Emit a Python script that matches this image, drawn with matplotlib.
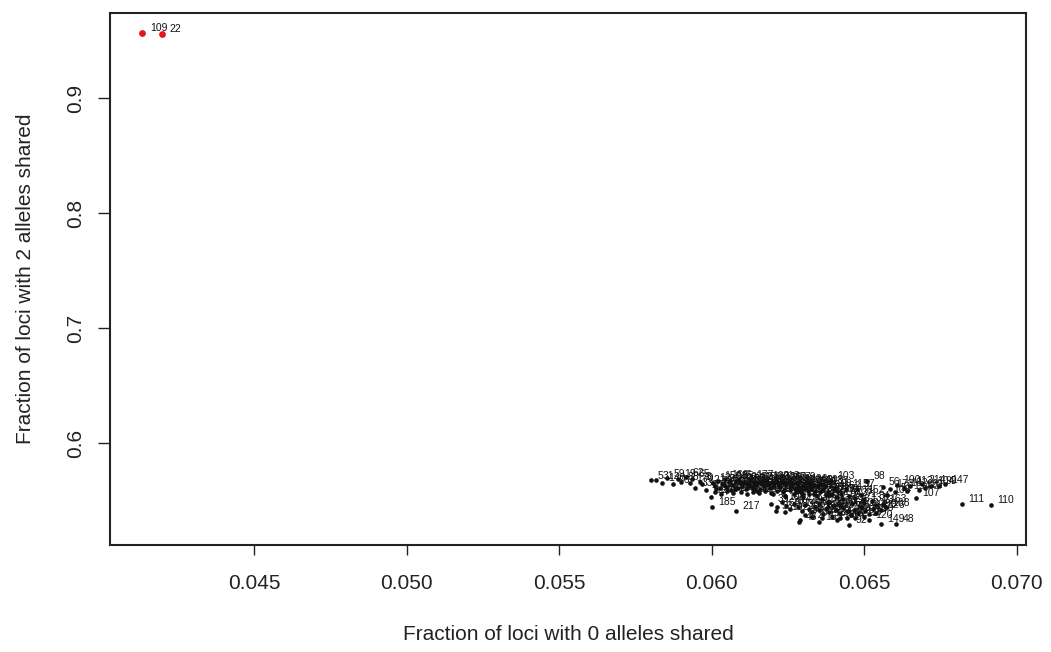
import matplotlib
matplotlib.use("Agg")
import matplotlib.pyplot as plt
from matplotlib import font_manager

plt.rcParams['font.family'] = ['Liberation Sans', 'DejaVu Sans']

# narrow face for the crowded point labels, if it is there
names = {f.name for f in font_manager.fontManager.ttflist}
lab_family = ['Liberation Sans Narrow'] if 'Liberation Sans Narrow' in names else ['Liberation Sans']

# two samples far from the rest (drawn in red)
out_x = [0.04133, 0.04197]
out_y = [0.9568, 0.9560]
out_id = ['109', '22']

# main cluster: fraction of loci sharing 0 alleles / 2 alleles, with sample ids
clu_x = [
    # left, sparse
    0.05802, 0.05818, 0.05838, 0.05855, 0.05872, 0.05888, 0.05900, 0.05915,
    0.05930, 0.05945, 0.05935, 0.05968, 0.05980, 0.05998, 0.06002, 0.06080,
    0.05960,
    # upper band
    0.06005, 0.06012, 0.06020, 0.06028, 0.06035, 0.06042, 0.06050, 0.06057,
    0.06063, 0.06070, 0.06078, 0.06085, 0.06092, 0.06098, 0.06105, 0.06112,
    0.06118, 0.06125, 0.06132, 0.06138, 0.06145, 0.06152, 0.06158, 0.06165,
    0.06172, 0.06178, 0.06185, 0.06192, 0.06198, 0.06205, 0.06212, 0.06218,
    0.06225, 0.06232, 0.06238, 0.06245, 0.06252, 0.06258, 0.06265, 0.06272,
    0.06278, 0.06285, 0.06290, 0.06297, 0.06303, 0.06310, 0.06318, 0.06325,
    0.06332, 0.06340, 0.06348, 0.06355, 0.06362, 0.06370, 0.06380, 0.06392,
    0.06400, 0.06412, 0.06425, 0.06440, 0.06287,
    0.06040, 0.06060, 0.06075, 0.06100, 0.06120, 0.06140, 0.06160, 0.06180,
    0.06200, 0.06220, 0.06240, 0.06260, 0.06280, 0.06300, 0.06015, 0.06090,
    0.06150,
    0.06010, 0.06030, 0.06050, 0.06070, 0.06095, 0.06115, 0.06135, 0.06155,
    0.06175, 0.06195, 0.06215, 0.06235, 0.06255, 0.06275, 0.06295, 0.06315,
    0.06335, 0.06355, 0.06375, 0.06395,
    # between the bands
    0.06200, 0.06240, 0.06270, 0.06300, 0.06320, 0.06345, 0.06360, 0.06385,
    0.06410, 0.06430, 0.06450, 0.06470, 0.06490, 0.06500, 0.06477, 0.06510,
    0.06526,
    # lower band
    0.06195, 0.06215, 0.06230, 0.06245, 0.06258, 0.06270, 0.06282, 0.06295,
    0.06305, 0.06318, 0.06330, 0.06340, 0.06352, 0.06365, 0.06375, 0.06385,
    0.06398, 0.06408, 0.06420, 0.06430, 0.06442, 0.06455, 0.06465, 0.06478,
    0.06490, 0.06502, 0.06515, 0.06528, 0.06540, 0.06555, 0.06570, 0.06330,
    0.06360, 0.06395, 0.06420, 0.06445, 0.06470, 0.06500, 0.06290, 0.06240,
    0.06210, 0.06350, 0.06380, 0.06420, 0.06460, 0.06500, 0.06540, 0.06305,
    0.06380, 0.06450, 0.06410, 0.06560,
    # below the lower band
    0.06287, 0.06352, 0.06450, 0.06515, 0.06556, 0.06605,
    # right arm and stragglers
    0.06560, 0.06585, 0.06608, 0.06630, 0.06650, 0.06671, 0.06690, 0.06700,
    0.06720, 0.06746, 0.06765, 0.06600, 0.06640, 0.06680, 0.06575, 0.06821,
    0.06915,
]
clu_y = [
    0.5675, 0.5675, 0.5655, 0.5692, 0.5640, 0.5690, 0.5660, 0.5700,
    0.5650, 0.5610, 0.5688, 0.5640, 0.5590, 0.5530, 0.5443, 0.5409,
    0.5665,
    0.5652, 0.5628, 0.5670, 0.5605, 0.5645, 0.5683, 0.5620, 0.5658,
    0.5590, 0.5638, 0.5672, 0.5612, 0.5650, 0.5628, 0.5665, 0.5598,
    0.5642, 0.5678, 0.5618, 0.5655, 0.5633, 0.5665, 0.5603, 0.5645,
    0.5622, 0.5670, 0.5640, 0.5610, 0.5658, 0.5630, 0.5675, 0.5648,
    0.5615, 0.5660, 0.5595, 0.5638, 0.5665, 0.5620, 0.5648, 0.5600,
    0.5640, 0.5660, 0.5620, 0.5590, 0.5645, 0.5612, 0.5635, 0.5598,
    0.5628, 0.5580, 0.5615, 0.5640, 0.5592, 0.5625, 0.5570, 0.5670,
    0.5605, 0.5585, 0.5560, 0.5598, 0.5583,
    0.5632, 0.5668, 0.5600, 0.5645, 0.5625, 0.5610, 0.5660, 0.5632,
    0.5645, 0.5625, 0.5652, 0.5635, 0.5605, 0.5628, 0.5600, 0.5680,
    0.5585,
    0.5575, 0.5560, 0.5582, 0.5565, 0.5578, 0.5558, 0.5572, 0.5562,
    0.5580, 0.5568, 0.5585, 0.5575, 0.5590, 0.5570, 0.5560, 0.5585,
    0.5555, 0.5570, 0.5545, 0.5560,
    0.5560, 0.5540, 0.5555, 0.5530, 0.5560, 0.5540, 0.5515, 0.5548,
    0.5530, 0.5515, 0.5540, 0.5525, 0.5550, 0.5510, 0.5600, 0.5670,
    0.5496,
    0.5470, 0.5440, 0.5490, 0.5455, 0.5425, 0.5470, 0.5440, 0.5412,
    0.5460, 0.5430, 0.5398, 0.5445, 0.5415, 0.5385, 0.5430, 0.5400,
    0.5455, 0.5420, 0.5390, 0.5435, 0.5405, 0.5375, 0.5420, 0.5395,
    0.5440, 0.5408, 0.5380, 0.5425, 0.5395, 0.5415, 0.5440, 0.5360,
    0.5350, 0.5355, 0.5345, 0.5350, 0.5345, 0.5360, 0.5330, 0.5400,
    0.5410, 0.5470, 0.5480, 0.5465, 0.5470, 0.5480, 0.5465, 0.5375,
    0.5440, 0.5410, 0.5330, 0.5470,
    0.5313, 0.5313, 0.5284, 0.5330, 0.5296, 0.5296,
    0.5620, 0.5600, 0.5635, 0.5610, 0.5625, 0.5522, 0.5640, 0.5605,
    0.5630, 0.5626, 0.5640, 0.5570, 0.5580, 0.5590, 0.5550, 0.5470,
    0.5461,
]
clu_id = [
    5, 31, 140, 59, 76, 19, 88, 62, 170, 33, 65, 121, 201, 44, 185, 217, 8,
    12, 73, 150, 3, 91, 166, 27, 54, 199, 118, 9, 137, 40, 82, 205, 14,
    63, 177, 101, 36, 70, 156, 7, 125, 49, 190, 17, 86, 132, 58, 213, 29,
    95, 143, 2, 112, 67, 181, 38, 160, 11, 79, 127, 52, 196, 21, 146, 66,
    174, 43, 89, 208, 15, 133, 57, 103, 93, 162, 30, 115, 25,
    4, 135, 46, 188, 71, 154, 24, 119, 84, 203, 35, 142, 60, 178, 130, 6,
    210,
    184, 187, 191, 192, 195, 200, 202, 209, 212, 215, 218, 219, 220, 221,
    223, 224, 225, 226, 227, 228,
    81, 157, 47, 124, 193, 13, 139, 68, 171, 90, 206, 37, 152, 1, 97, 98,
    34,
    39, 165, 108, 26, 183, 74, 144, 10, 197, 55, 128, 85, 216, 20, 161, 69,
    136, 42, 179, 96, 16, 148, 61, 204, 32, 117, 75, 189, 50, 126, 168, 87,
    198, 28, 145, 64, 211, 18, 172, 102, 53, 186, 41, 159, 78, 131, 23, 94,
    207, 72, 180, 163,
    45, 155, 92, 120, 149, 48,
    56, 173, 100, 182, 113, 107, 214, 80, 104, 99, 147, 51, 194, 122, 105, 111,
    110,
]

fig = plt.figure(figsize=(10.51, 6.52), dpi=100)
ax = fig.add_axes([0.1047, 0.1641, 0.8715, 0.8160])

ax.scatter(clu_x, clu_y, s=11, color='#111111', linewidths=0, zorder=2)
ax.scatter(out_x, out_y, s=24, color='#e3161f', linewidths=0, zorder=3)

for x, y, lab in zip(clu_x, clu_y, clu_id):
    ax.annotate(str(lab), (x, y), xytext=(4.5, 3.5), textcoords='offset points',
                ha='left', va='center', fontsize=7.5, color='#111111',
                family=lab_family)
for x, y, lab in zip(out_x, out_y, out_id):
    ax.annotate(lab, (x, y), xytext=(5.5, 3), textcoords='offset points',
                ha='left', va='center', fontsize=7.5, color='#111111',
                family=lab_family)

ax.set_xlim(0.04028, 0.07030)
ax.set_ylim(0.5113, 0.9739)
ax.set_xticks([0.045, 0.050, 0.055, 0.060, 0.065, 0.070])
ax.set_xticklabels(['0.045', '0.050', '0.055', '0.060', '0.065', '0.070'])
ax.set_yticks([0.6, 0.7, 0.8, 0.9])
ax.set_yticklabels(['0.6', '0.7', '0.8', '0.9'], rotation=90, va='center')

ax.tick_params(axis='x', length=7, width=1, pad=14, labelsize=15, colors='#222222')
ax.tick_params(axis='y', length=9, width=1, pad=9, labelsize=15, colors='#222222')
for sp in ax.spines.values():
    sp.set_linewidth(1.5)
    sp.set_color('#222222')

ax.set_xlabel('Fraction of loci with 0 alleles shared', fontsize=15,
              color='#222222', labelpad=23)
ax.set_ylabel('Fraction of loci with 2 alleles shared', fontsize=15,
              color='#222222', labelpad=22)

fig.savefig('out.png', dpi=100)
